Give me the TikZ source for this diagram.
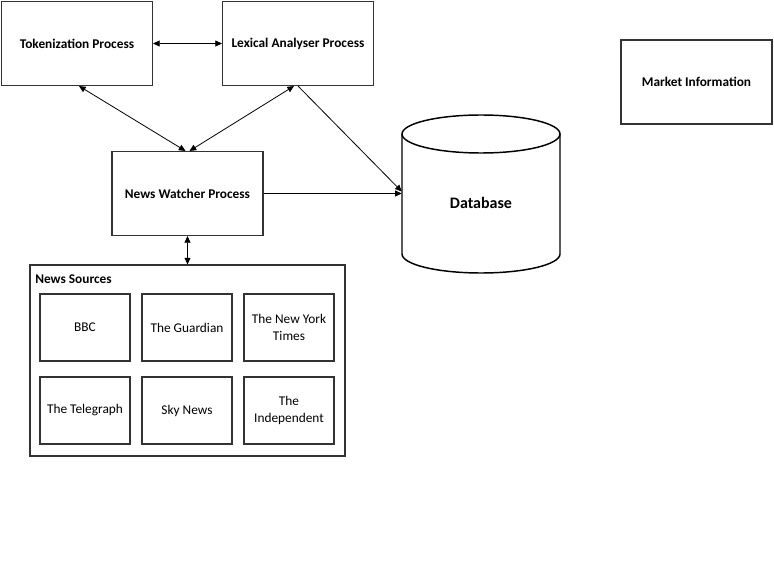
\documentclass[tikz,border=0pt]{standalone}
\usepackage{fontspec}
\setmainfont{Carlito}
\usetikzlibrary{arrows.meta}
\begin{document}
\begin{tikzpicture}[x=0.75pt,y=-0.75pt,
  lbl/.style={font=\fontsize{10}{12.5}\selectfont},
  box/.style={draw=black!80, line width=0.8pt, lbl, align=center, inner sep=0pt},
  proc/.style={box, font=\fontsize{10}{12}\selectfont\bfseries, minimum width=113.25pt, minimum height=63pt},
  src/.style={box, minimum width=67.5pt, minimum height=50.25pt},
  arr/.style={line width=0.6pt, -{Triangle[length=5pt,width=4.5pt]}},
  darr/.style={line width=0.6pt, {Triangle[length=5pt,width=4.5pt]}-{Triangle[length=5pt,width=4.5pt]}}]
\useasboundingbox (0,0) rectangle (774,574);
\fill[white] (0,0) rectangle (774,574);

\node[proc] (tok) at (77,43.5) {Tokenization Process};
\node[proc] (lex) at (298,43.5) {Lexical Analyser Process};
\node[proc] (mkt) at (696.5,82) {Market Information};
\node[proc] (nw) at (187.5,193.5) {News Watcher Process};

% database cylinder
\draw[line width=1.1pt, fill=white] (402,134) -- (402,254) arc[start angle=180,end angle=0,x radius=79,y radius=19] -- (560,134);
\draw[line width=1.1pt] (481,134) ellipse[x radius=79,y radius=19];
\node[inner sep=0pt, minimum width=118.5pt, minimum height=118.5pt] (db) at (481,193.5) {};
\node[font=\fontsize{12}{14}\selectfont\bfseries] (dbl) at (481,203) {Database};

% news sources
\node[draw=black!80, line width=0.8pt, minimum width=236.25pt, minimum height=143.25pt, inner sep=0pt] (ns) at (187.5,360.5) {};
\node[font=\fontsize{10}{12}\selectfont\bfseries, anchor=west, inner sep=0pt] (nsl) at (35,279) {News Sources};

\node[src] (bbc) at (85,327.5) {BBC};
\node[src] (gua) at (187,327.5) {The Guardian};
\node[src] (nyt) at (289,327.5) {The New York\\Times};
\node[src] (tel) at (85,410.5) {The Telegraph};
\node[src] (sky) at (187,410.5) {Sky News};
\node[src] (ind) at (289,410.5) {The\\Independent};

% connectors
\draw[darr] (tok.east) -- (lex.east -| lex.west);
\draw[darr] ([xshift=1.5pt]tok.south) -- ([xshift=-1.5pt]nw.north);
\draw[darr] ([xshift=-3pt]lex.south) -- ([xshift=1.5pt]nw.north);
\draw[arr] (lex.south) -- ([yshift=1.5pt]db.west);
\draw[arr] (nw.east) -- (db.west);
\draw[darr] (nw.south) -- (ns.north -| nw.south);
\end{tikzpicture}
\end{document}
